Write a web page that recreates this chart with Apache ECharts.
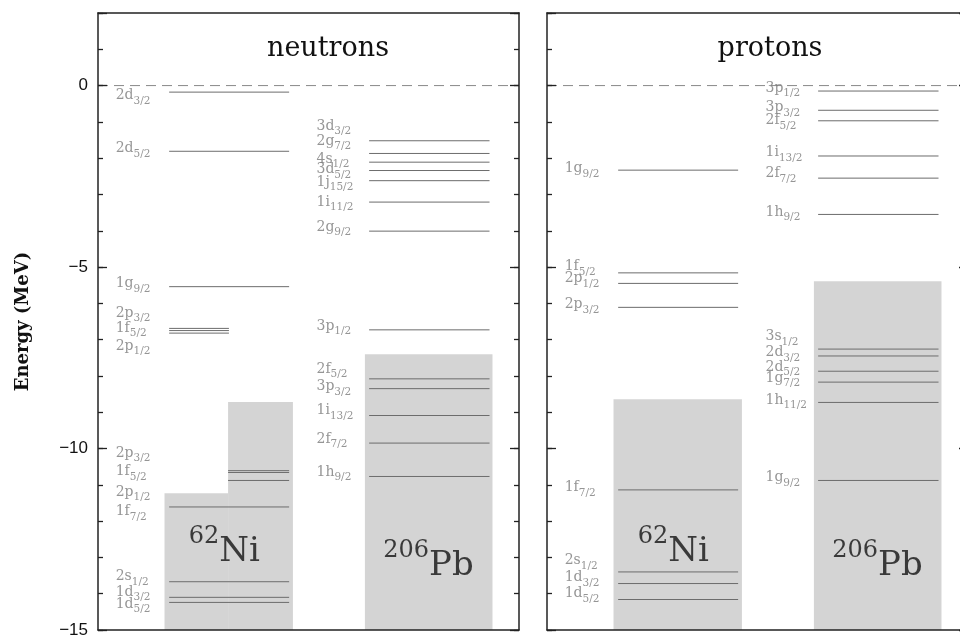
<!DOCTYPE html>
<html>
<head>
<meta charset="utf-8">
<script src="https://cdn.jsdelivr.net/npm/echarts@6/dist/echarts.min.js"></script>
<style>
  html, body { margin: 0; background: #fff; }
  #main { width: 960px; height: 637px; }
</style>
</head>
<body>
<div id="main"></div>
<script>
// single-particle levels (MeV), label heights (MeV), top of the filled region
// neutrons, 62Ni
const nNiNames = ['2d3/2', '2d5/2', '1g9/2', '2p3/2', '1f5/2', '2p1/2', '2p3/2', '1f5/2', '2p1/2', '1f7/2', '2s1/2', '1d3/2', '1d5/2']
const nNiE = [-0.18, -1.81, -5.54, -6.69, -6.75, -6.82, -10.61, -10.66, -10.88, -11.61, -13.67, -14.10, -14.24]
const nNiLabelE = [-0.27, -1.74, -5.45, -6.27, -6.68, -7.18, -10.13, -10.63, -11.20, -11.73, -13.52, -13.96, -14.29]
const nNiPart = ['all', 'all', 'all', 'left', 'left', 'left', 'right', 'right', 'right', 'all', 'all', 'all', 'all']
const nNiFill = [-11.23, -8.72]
// neutrons, 206Pb
const nPbNames = ['3d3/2', '2g7/2', '4s1/2', '3d5/2', '1j15/2', '1i11/2', '2g9/2', '3p1/2', '2f5/2', '3p3/2', '1i13/2', '2f7/2', '1h9/2']
const nPbE = [-1.52, -1.87, -2.11, -2.34, -2.62, -3.21, -4.01, -6.73, -8.08, -8.35, -9.09, -9.85, -10.77]
const nPbLabelE = [-1.12, -1.53, -2.03, -2.31, -2.66, -3.21, -3.90, -6.63, -7.81, -8.30, -8.96, -9.74, -10.65]
const nPbFill = -7.40
// protons, 62Ni
const pNiNames = ['1g9/2', '1f5/2', '2p1/2', '2p3/2', '1f7/2', '2s1/2', '1d3/2', '1d5/2']
const pNiE = [-2.33, -5.16, -5.45, -6.11, -11.14, -13.40, -13.72, -14.16]
const pNiLabelE = [-2.28, -4.98, -5.31, -6.03, -11.07, -13.08, -13.55, -13.99]
const pNiFill = -8.64
// protons, 206Pb
const pPbNames = ['3p1/2', '3p3/2', '2f5/2', '1i13/2', '2f7/2', '1h9/2', '3s1/2', '2d3/2', '2d5/2', '1g7/2', '1h11/2', '1g9/2']
const pPbE = [-0.15, -0.68, -0.97, -1.94, -2.55, -3.55, -7.26, -7.45, -7.87, -8.17, -8.73, -10.88]
const pPbLabelE = [-0.07, -0.60, -0.96, -1.84, -2.42, -3.49, -6.91, -7.35, -7.76, -8.06, -8.67, -10.80]
const pPbFill = -5.39

const yTicks = [-15, -10, -5, 0]
const panelTitles = ['neutrons', 'protons']

const SERIF = '"DejaVu Serif", serif'
const AXIS_COLOR = '#222'
const LINE_COLOR = '#6c6c6c'
const LABEL_COLOR = '#7a7a7a'
const FILL_COLOR = '#d4d4d4'
// column layout, as fraction of the panel width
const NI_BOX = [0.158, 0.463]
const PB_BOX = [0.634, 0.937]
const NI_LINE = [0.169, 0.454]
const PB_LINE = [0.644, 0.930]
const NI_SPLIT = 0.309
const NI_LABEL_X = 0.042
const PB_LABEL_X = 0.519

function levelItems(energies, lineX, parts) {
  return energies.map((e, i) => {
    const p = parts ? parts[i] : 'all'
    const x0 = p === 'right' ? NI_SPLIT : lineX[0]
    const x1 = p === 'left' ? NI_SPLIT + 0.002 : lineX[1]
    return [x0, e, x1]
  })
}

function renderLine(params, api) {
  const a = api.coord([api.value(0), api.value(1)])
  const b = api.coord([api.value(2), api.value(1)])
  return {
    type: 'line',
    shape: { x1: a[0], y1: a[1], x2: b[0], y2: b[1] },
    style: { stroke: LINE_COLOR, lineWidth: 1 }
  }
}

function renderDash(params, api) {
  const a = api.coord([api.value(0), api.value(1)])
  const b = api.coord([api.value(2), api.value(1)])
  return {
    type: 'line',
    shape: { x1: a[0], y1: a[1], x2: b[0], y2: b[1] },
    style: { stroke: '#888', lineWidth: 1, lineDash: [10, 6] }
  }
}

function renderFill(params, api) {
  const p0 = api.coord([api.value(0), api.value(2)])
  const p1 = api.coord([api.value(1), -15])
  return {
    type: 'rect',
    shape: { x: p0[0], y: p0[1], width: p1[0] - p0[0], height: p1[1] - p0[1] },
    style: { fill: FILL_COLOR }
  }
}

function fillSeries(items, gi) {
  return {
    type: 'custom', xAxisIndex: gi * 2, yAxisIndex: gi * 4, silent: true,
    renderItem: renderFill, encode: { x: [0, 1], y: 2 }, data: items
  }
}

function lineSeries(items, gi, dashed) {
  return {
    type: 'custom', xAxisIndex: gi * 2, yAxisIndex: gi * 4, silent: true,
    renderItem: dashed ? renderDash : renderLine, encode: { x: [0, 2], y: 1 }, data: items
  }
}

function labelSeries(names, labelE, x, gi) {
  return {
    type: 'scatter', xAxisIndex: gi * 2, yAxisIndex: gi * 4, symbolSize: 0, silent: true,
    data: labelE.map((e, i) => ({ value: [x, e], name: names[i] })),
    label: {
      show: true,
      position: 'inside',
      align: 'left',
      verticalAlign: 'middle',
      formatter: p => '{m|' + p.name.slice(0, 2) + '}{s|' + p.name.slice(2) + '}',
      rich: {
        m: { fontFamily: SERIF, fontSize: 14, color: LABEL_COLOR, lineHeight: 22, verticalAlign: 'middle' },
        s: { fontFamily: SERIF, fontSize: 10.5, color: LABEL_COLOR, lineHeight: 11, verticalAlign: 'bottom' }
      }
    }
  }
}

function nucleusSeries(gi) {
  return {
    type: 'scatter', xAxisIndex: gi * 2, yAxisIndex: gi * 4, symbolSize: 0, silent: true, z: 4,
    data: [
      { value: [0.30, -12.85], name: '62|Ni' },
      { value: [0.785, -13.24], name: '206|Pb' }
    ],
    label: {
      show: true,
      position: 'inside',
      align: 'center',
      verticalAlign: 'middle',
      formatter: p => {
        const s = p.name.split('|')
        return '{u|' + s[0] + '}{e|' + s[1] + '}'
      },
      rich: {
        // superscript pushed up by bottom padding
        u: { fontFamily: SERIF, fontSize: 24, color: '#111', lineHeight: 18, padding: [0, 0, 30, 0] },
        e: { fontFamily: SERIF, fontSize: 34, color: '#111', lineHeight: 48 }
      }
    }
  }
}

function xAxes(gi) {
  const base = {
    gridIndex: gi, type: 'value', min: 0, max: 1, z: 5,
    axisLine: { onZero: false, lineStyle: { color: AXIS_COLOR, width: 1.5 } },
    axisTick: { show: false }, axisLabel: { show: false }, splitLine: { show: false }
  }
  return [Object.assign({ position: 'bottom' }, base), Object.assign({ position: 'top' }, base)]
}

function yAxes(gi) {
  const tickStyle = { color: AXIS_COLOR, width: 1.3 }
  const base = {
    gridIndex: gi, type: 'value', min: -15, max: 2, z: 5,
    splitLine: { show: false }, axisLabel: { show: false }
  }
  const minor = side => Object.assign({}, base, {
    position: side, interval: 1,
    axisLine: { show: true, onZero: false, lineStyle: { color: AXIS_COLOR, width: 1.5 } },
    axisTick: { inside: true, length: 5, lineStyle: tickStyle }
  })
  const major = side => Object.assign({}, base, {
    position: side, interval: 5,
    axisLine: { show: false, onZero: false },
    axisTick: { inside: true, length: 9, lineStyle: tickStyle }
  })
  const left = minor('left')
  if (gi === 0) {
    left.axisLabel = {
      show: true, margin: 10, fontFamily: '"Liberation Sans", Arial, sans-serif', fontSize: 17, color: '#111',
      formatter: v => yTicks.indexOf(v) >= 0 ? String(v).replace('-', '\u2212') : ''
    }
    left.name = 'Energy (MeV)'
    left.nameLocation = 'middle'
    left.nameGap = 66
    left.nameRotate = 90
    left.nameTextStyle = { fontFamily: SERIF, fontWeight: 'bold', fontSize: 18, color: '#111' }
  }
  return [left, major('left'), minor('right'), major('right')]
}

const chart = echarts.init(document.getElementById('main'))

const nNiFillItems = [[NI_BOX[0], NI_SPLIT, nNiFill[0]], [NI_SPLIT, NI_BOX[1], nNiFill[1]]]

chart.setOption({
  animation: false,
  backgroundColor: '#fff',
  grid: [
    { left: 98, top: 13, width: 421, height: 617, outerBoundsMode: 'none' },
    { left: 547, top: 13, width: 421, height: 617, outerBoundsMode: 'none' }
  ],
  xAxis: xAxes(0).concat(xAxes(1)),
  yAxis: yAxes(0).concat(yAxes(1)),
  graphic: [
    { type: 'text', x: 328, y: 49, style: { text: panelTitles[0], font: '27px "DejaVu Serif"', fill: '#111', align: 'center', verticalAlign: 'middle' } },
    { type: 'text', x: 770, y: 49, style: { text: panelTitles[1], font: '27px "DejaVu Serif"', fill: '#111', align: 'center', verticalAlign: 'middle' } }
  ],
  series: [
    fillSeries(nNiFillItems.concat([[PB_BOX[0], PB_BOX[1], nPbFill]]), 0),
    fillSeries([[NI_BOX[0], NI_BOX[1], pNiFill], [PB_BOX[0], PB_BOX[1], pPbFill]], 1),
    lineSeries([[0, 0, 1]], 0, true),
    lineSeries([[0, 0, 1]], 1, true),
    lineSeries(levelItems(nNiE, NI_LINE, nNiPart).concat(levelItems(nPbE, PB_LINE)), 0),
    lineSeries(levelItems(pNiE, NI_LINE).concat(levelItems(pPbE, PB_LINE)), 1),
    labelSeries(nNiNames, nNiLabelE, NI_LABEL_X, 0),
    labelSeries(nPbNames, nPbLabelE, PB_LABEL_X, 0),
    labelSeries(pNiNames, pNiLabelE, NI_LABEL_X, 1),
    labelSeries(pPbNames, pPbLabelE, PB_LABEL_X, 1),
    nucleusSeries(0),
    nucleusSeries(1)
  ]
})
</script>
</body>
</html>
